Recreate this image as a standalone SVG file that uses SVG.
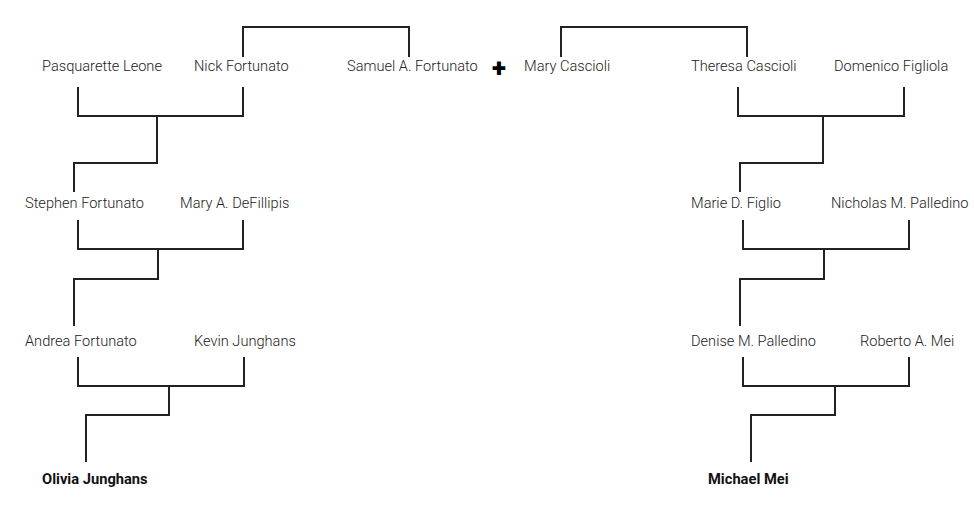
<svg xmlns="http://www.w3.org/2000/svg" width="974" height="529" viewBox="0 0 974 529">
<style>
.n{font-family:Roboto,"Liberation Sans",sans-serif;font-size:14.6px;font-weight:300;fill:#222}
.b{font-family:Roboto,"Liberation Sans",sans-serif;font-size:14.7px;font-weight:700;fill:#111}
.c{fill:none;stroke:#222;stroke-width:2}
</style>
<rect width="974" height="529" fill="#fff"/>
<g id="connectors">
<path class="c" d="M243,57V27H409V57"/>
<path class="c" d="M561,57V27H747V57"/>
<path class="c" d="M78,87V116H243V87M157,116V163H74V192"/>
<path class="c" d="M78,220V249H243V220M158,249V279H74V326"/>
<path class="c" d="M78,357V386H244V357M169,386V415H86V462"/>
<path class="c" d="M738,87V116H904V87M823,116V163H740V192"/>
<path class="c" d="M743,220V249H909V220M824,249V279H740V326"/>
<path class="c" d="M743,357V386H909V357M835,386V415H751V462"/>
</g>
<g id="pasquarette"><text class="n" x="42" y="71">Pasquarette Leone</text></g>
<g id="nick"><text class="n" x="194" y="71">Nick Fortunato</text></g>
<g id="samuel"><text class="n" x="347" y="71">Samuel A. Fortunato</text></g>
<g id="plus"><text x="499" y="77" text-anchor="middle" style="font-family:Roboto,'Liberation Sans',sans-serif;font-size:26px;font-weight:900;fill:#000">+</text></g>
<g id="marycascioli"><text class="n" x="524" y="71">Mary Cascioli</text></g>
<g id="theresa"><text class="n" x="691" y="71">Theresa Cascioli</text></g>
<g id="domenico"><text class="n" x="834" y="71">Domenico Figliola</text></g>
<g id="stephen"><text class="n" x="25" y="208">Stephen Fortunato</text></g>
<g id="marydefillipis"><text class="n" x="180" y="208">Mary A. DeFillipis</text></g>
<g id="marie"><text class="n" x="691" y="208">Marie D. Figlio</text></g>
<g id="nicholas"><text class="n" x="831" y="208">Nicholas M. Palledino</text></g>
<g id="andrea"><text class="n" x="25" y="346">Andrea Fortunato</text></g>
<g id="kevin"><text class="n" x="194" y="346">Kevin Junghans</text></g>
<g id="denise"><text class="n" x="691" y="346">Denise M. Palledino</text></g>
<g id="roberto"><text class="n" x="860" y="346">Roberto A. Mei</text></g>
<g id="olivia"><text class="b" x="42" y="484">Olivia Junghans</text></g>
<g id="michael"><text class="b" x="708" y="484">Michael Mei</text></g>
</svg>
